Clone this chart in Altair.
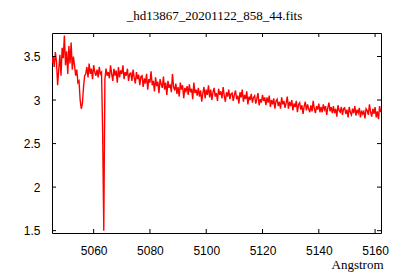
import altair as alt
import numpy as np
import pandas as pd

title_text = "_hd13867_20201122_858_44.fits"
x_title = "Angstrom"

# wavelength grid (Angstrom): start and step
wl_start = 5045.2
wl_step = 0.4

# flux values, one per grid point
flux = [
    3.42, 3.50, 3.38, 3.55, 3.44, 3.17, 3.35, 3.52, 3.28, 3.60,
    3.48, 3.74, 3.40, 3.56, 3.30, 3.62, 3.42, 3.66, 3.35, 3.50,
    3.40, 3.28, 3.35, 3.20, 3.22, 3.00, 2.90, 2.96, 3.15, 3.28,
    3.30, 3.38, 3.26, 3.42, 3.30, 3.36, 3.24, 3.40, 3.32, 3.28,
    3.35, 3.26, 3.38, 3.30, 3.32, 2.62, 1.50, 3.24, 3.36, 3.28,
    3.32, 3.25, 3.40, 3.30, 3.22, 3.36, 3.28, 3.34, 3.20, 3.38,
    3.26, 3.34, 3.30, 3.40, 3.24, 3.32, 3.28, 3.36, 3.22, 3.30,
    3.31, 3.22, 3.35, 3.26, 3.19, 3.32, 3.24, 3.29, 3.17, 3.27,
    3.28, 3.15, 3.25, 3.19, 3.30, 3.12, 3.24, 3.20, 3.33, 3.17,
    3.22, 3.10, 3.26, 3.16, 3.21, 3.08, 3.24, 3.18, 3.14, 3.27,
    3.12, 3.20, 3.06, 3.22, 3.14, 3.18, 3.09, 3.30, 3.15, 3.11,
    3.19, 3.07, 3.15, 3.04, 3.20, 3.12, 3.17, 3.02, 3.14, 3.10,
    3.16, 3.06, 3.18, 3.09, 3.13, 3.01, 3.20, 3.08, 3.12, 3.05,
    3.14, 3.04, 3.11, 2.98, 3.08, 3.15, 3.02, 3.12, 3.06, 3.17,
    3.03, 3.12, 3.00, 3.09, 3.14, 3.04, 3.08, 2.99, 3.13, 3.06,
    3.10, 3.02, 3.15, 3.05, 2.98, 3.09, 3.04, 3.12, 3.01, 3.07,
    3.08, 2.99, 3.06, 3.11, 3.01, 3.05, 2.96, 3.09, 3.03, 3.12,
    2.98, 3.06, 3.01, 3.10, 2.95, 3.04, 3.00, 3.07, 2.97, 3.03,
    3.05, 2.96, 3.02, 3.08, 2.94, 3.01, 2.97, 3.06, 2.99, 3.03,
    2.94, 3.03, 2.97, 3.05, 2.92, 3.00, 2.95, 3.02, 2.90, 2.99,
    3.01, 2.93, 2.98, 2.90, 3.03, 2.95, 2.99, 2.91, 2.97, 3.04,
    2.90, 2.98, 2.93, 3.00, 2.88, 2.96, 2.92, 2.99, 2.86, 2.95,
    2.97, 2.89, 2.94, 2.84, 2.93, 2.98, 2.88, 2.95, 2.90, 2.86,
    2.94, 2.87, 2.99, 2.90, 2.85, 2.93, 2.89, 2.96, 2.86, 2.92,
    2.86, 2.95, 2.89, 2.93, 2.83, 2.91, 2.97, 2.87, 2.92, 2.85,
    2.93, 2.85, 2.90, 2.81, 2.94, 2.88, 2.86, 2.92, 2.83, 2.90,
    2.91, 2.84, 2.89, 2.80, 2.92, 2.86, 2.83, 2.90, 2.85, 2.93,
    2.82, 2.89, 2.85, 2.91, 2.80, 2.88, 2.84, 2.87, 2.79, 2.90,
    2.88, 2.83, 2.95, 2.86, 2.81, 2.90, 2.84, 2.92, 2.80, 2.87,
    2.78, 2.93, 2.86,
]

x_ticks = [5060, 5080, 5100, 5120, 5140, 5160]
y_ticks = [1.5, 2, 2.5, 3, 3.5]
x_domain = [5045.2, 5162.1]
y_domain = [1.473, 3.77]

W, H = 329, 200
TICK = 4

wl = wl_start + wl_step * np.arange(len(flux))
df = pd.DataFrame({"wl": wl, "flux": flux})
xt = pd.DataFrame({"wl": x_ticks})
yt = pd.DataFrame({"flux": y_ticks})

xscale = alt.Scale(domain=x_domain, nice=False, zero=False)
yscale = alt.Scale(domain=y_domain, nice=False, zero=False)

line = alt.Chart(df).mark_line(color="#ff0000", strokeWidth=1.4, clip=True).encode(
    x=alt.X(
        "wl:Q",
        scale=xscale,
        axis=alt.Axis(
            values=x_ticks,
            format="d",
            title=x_title,
            titleX=331,
            titleY=25,
            titleAlign="right",
            titleAnchor="end",
            labelPadding=12,
            labelFlush=False,
            ticks=False,
            tickSize=0,
            domain=False,
            grid=False,
        ),
    ),
    y=alt.Y(
        "flux:Q",
        scale=yscale,
        axis=alt.Axis(
            values=y_ticks,
            format="~g",
            title=None,
            labelPadding=12,
            labelFlush=False,
            ticks=False,
            tickSize=0,
            domain=False,
            grid=False,
        ),
    ),
)

rule_style = dict(color="black", strokeWidth=1)
bottom_ticks = alt.Chart(xt).mark_rule(**rule_style).encode(
    x=alt.X("wl:Q", scale=xscale), y=alt.value(H), y2=alt.value(H - TICK)
)
top_ticks = alt.Chart(xt).mark_rule(**rule_style).encode(
    x=alt.X("wl:Q", scale=xscale), y=alt.value(0), y2=alt.value(TICK)
)
left_ticks = alt.Chart(yt).mark_rule(**rule_style).encode(
    y=alt.Y("flux:Q", scale=yscale), x=alt.value(0), x2=alt.value(TICK)
)
right_ticks = alt.Chart(yt).mark_rule(**rule_style).encode(
    y=alt.Y("flux:Q", scale=yscale), x=alt.value(W), x2=alt.value(W - TICK)
)

chart = (
    alt.layer(line, bottom_ticks, top_ticks, left_ticks, right_ticks)
    .properties(
        width=W,
        height=H,
        autosize="none",
        padding={"left": 52, "top": 33, "right": 19, "bottom": 47},
        title=alt.TitleParams(
            text=title_text,
            font="Liberation Serif",
            fontSize=13,
            fontWeight="normal",
            color="black",
            anchor="middle",
            offset=10,
            dx=-2,
        ),
        background="white",
    )
    .configure_view(stroke="black", strokeWidth=1)
    .configure_axis(
        labelFont="Liberation Sans",
        labelFontSize=12,
        labelColor="black",
        titleFont="Liberation Serif",
        titleFontSize=13,
        titleFontWeight="normal",
        titleColor="black",
    )
)

chart.save("out.html", embed_options={"renderer": "svg", "actions": False})
